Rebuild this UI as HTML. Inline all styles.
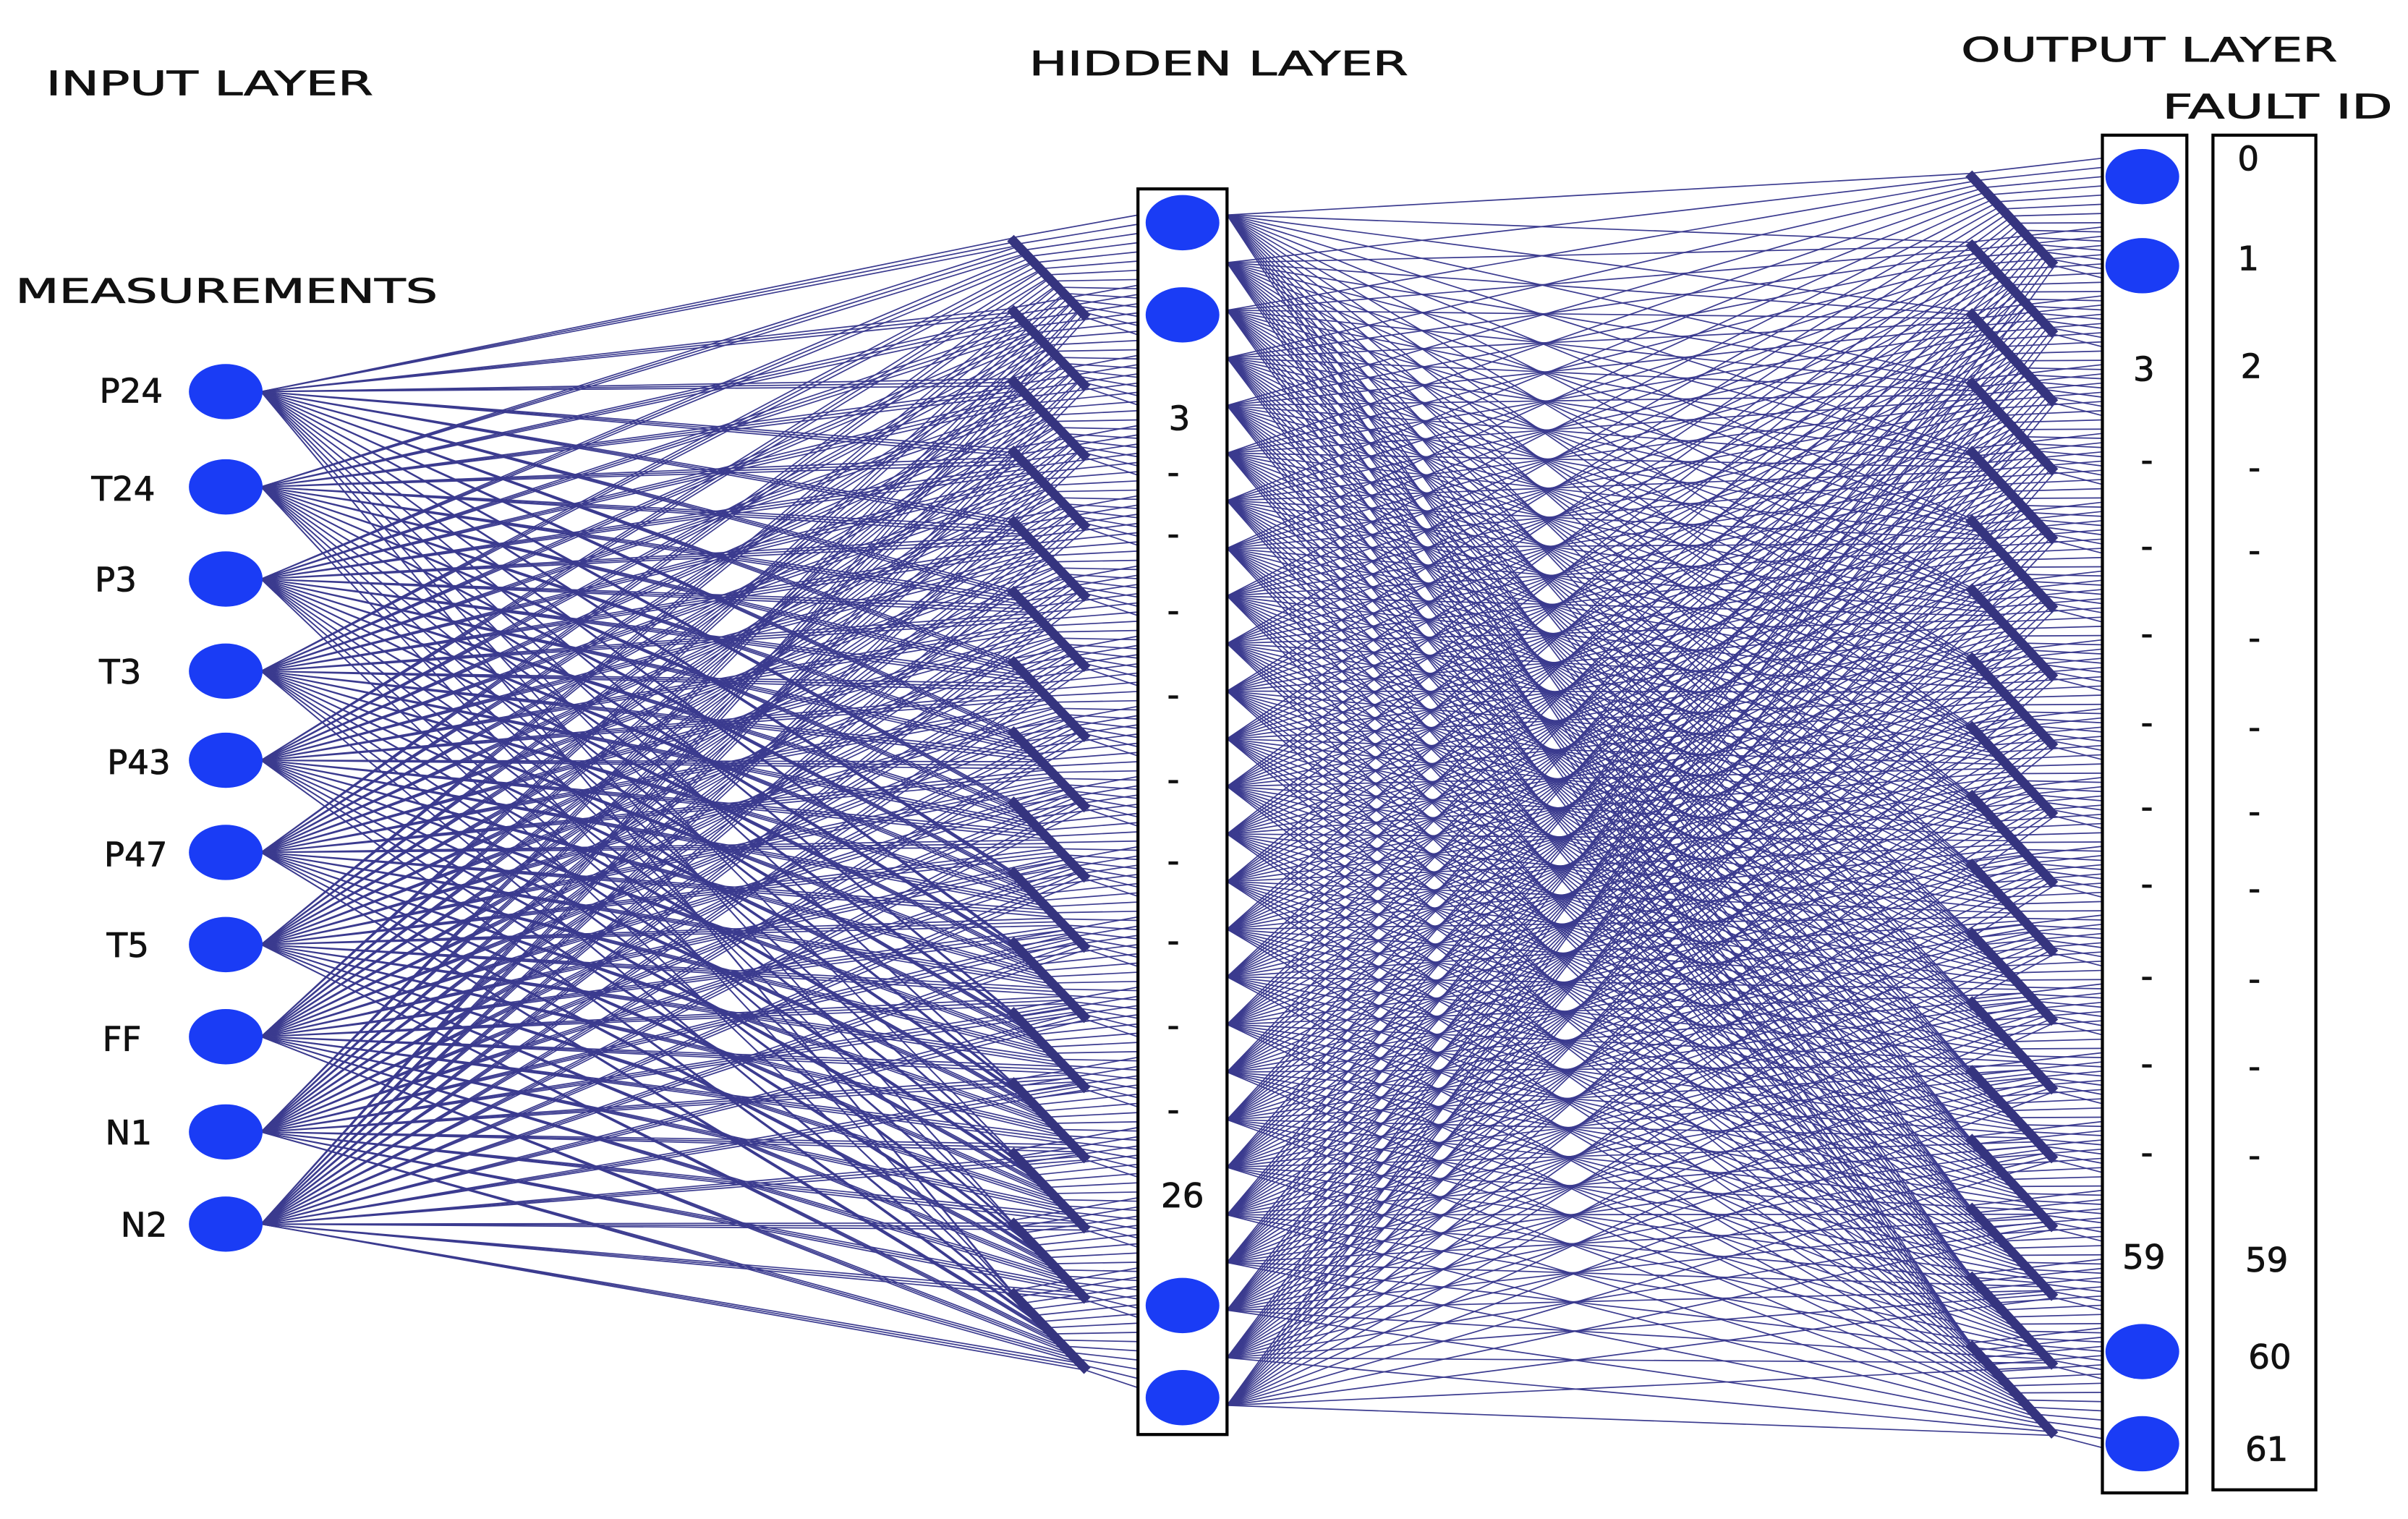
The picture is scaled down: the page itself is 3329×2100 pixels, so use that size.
<!DOCTYPE html>
<html><head><meta charset="utf-8"><style>
html,body{margin:0;padding:0;background:#fff;}
svg{display:block;}
text{font-family:"DejaVu Sans","Liberation Sans",sans-serif;font-size:22px;fill:#111;stroke:#111;stroke-width:0.4;}
</style></head><body>
<svg id="s" width="3329" height="2100" viewBox="0 0 1568 989" preserveAspectRatio="none" xmlns="http://www.w3.org/2000/svg">
<g id="lines" stroke="#3b3b8f" stroke-width="0.8" fill="none"></g>
<g id="streaks" stroke="#35347f" stroke-width="6" fill="none"></g>
<rect x="741" y="123" width="58" height="811" fill="none" stroke="#000" stroke-width="2"/>
<rect x="1369" y="88" width="55" height="884" fill="none" stroke="#000" stroke-width="2"/>
<rect x="1441" y="88" width="67" height="882" fill="none" stroke="#000" stroke-width="2"/>
<g id="nodes" fill="#1a3cf5"></g>
<text x="30" y="62" textLength="213" lengthAdjust="spacingAndGlyphs">INPUT LAYER</text>
<text x="670" y="49" textLength="247" lengthAdjust="spacingAndGlyphs">HIDDEN LAYER</text>
<text x="1277" y="40" textLength="245" lengthAdjust="spacingAndGlyphs">OUTPUT LAYER</text>
<text x="1408" y="77" textLength="150" lengthAdjust="spacingAndGlyphs">FAULT ID</text>
<text x="10" y="197" textLength="275" lengthAdjust="spacingAndGlyphs">MEASUREMENTS</text>
<g text-anchor="end">
<text x="106" y="262">P24</text><text x="101" y="326">T24</text><text x="89" y="385">P3</text>
<text x="92" y="445">T3</text><text x="111" y="504">P43</text><text x="109" y="564">P47</text>
<text x="97" y="623">T5</text><text x="92" y="684">FF</text><text x="99" y="745">N1</text><text x="109" y="805">N2</text>
</g>
<g text-anchor="middle">
<text x="768" y="280">3</text><text x="770" y="786">26</text>
<text x="1396" y="248">3</text><text x="1396" y="826">59</text>
<text x="1464" y="111">0</text><text x="1464" y="176">1</text><text x="1466" y="246">2</text>
<text x="1476" y="828">59</text><text x="1478" y="891">60</text><text x="1476" y="951">61</text>
</g>
<g id="dots" text-anchor="middle"></g>
</svg>
<script>
var NS="http://www.w3.org/2000/svg";
var L=document.getElementById("lines"),S=document.getElementById("streaks"),N=document.getElementById("nodes"),D=document.getElementById("dots");
function ln(p,a,b,c,d){var e=document.createElementNS(NS,"line");e.setAttribute("x1",a);e.setAttribute("y1",b);e.setAttribute("x2",c);e.setAttribute("y2",d);p.appendChild(e);}
function el(x,y){var e=document.createElementNS(NS,"ellipse");e.setAttribute("cx",x);e.setAttribute("cy",y);e.setAttribute("rx",24);e.setAttribute("ry",18);N.appendChild(e);}
function tx(x,y,t){var e=document.createElementNS(NS,"text");e.setAttribute("x",x);e.setAttribute("y",y);e.textContent=t;D.appendChild(e);}
var iy=[255,317,377,437,495,555,615,675,737,797];
function pt(s,t){return [s[0]+(s[2]-s[0])*t,s[1]+(s[3]-s[1])*t];}
var LS=[];for(var i=0;i<16;i++){var y=155+i*45.7;LS.push([658,y,708,y+52]);}
LS.forEach(function(s){
  iy.forEach(function(y,k){[0.05,0.5,0.95].forEach(function(d){var p=pt(s,(k+d)/10);ln(L,170,y,p[0],p[1]);});});
  for(var m=0;m<14;m++){var p=pt(s,m/13);ln(L,p[0],p[1],741,s[1]-15+m*6);}
  ln(S,s[0],s[1],s[2],s[3]);
});
var RS=[];for(var j=0;j<18;j++){var y=113+j*44.8;RS.push([1282,y,1338,y+60]);}
var hs=[];for(var k=0;k<26;k++)hs.push(140+k*(915-140)/25);
RS.forEach(function(s){
  hs.forEach(function(h,k){var p=pt(s,k/25);ln(L,799,h,p[0],p[1]);});
  for(var m=0;m<14;m++){var p=pt(s,m/13);ln(L,p[0],p[1],1369,Math.min(965,s[1]-10+m*6));}
  ln(S,s[0],s[1],s[2],s[3]);
});
iy.forEach(function(y){el(147,y);});
[145,205,850,910].forEach(function(y){el(770,y);});
[115,173,880,940].forEach(function(y){el(1395,y);});
[315,355,405,460,515,568,620,675,730].forEach(function(y){tx(764,y,"-");});
[307,363,420,478,533,583,643,700,758].forEach(function(y){tx(1398,y,"-");});
[312,366,423,481,536,586,645,702,760].forEach(function(y){tx(1468,y,"-");});
</script>
</body></html>
